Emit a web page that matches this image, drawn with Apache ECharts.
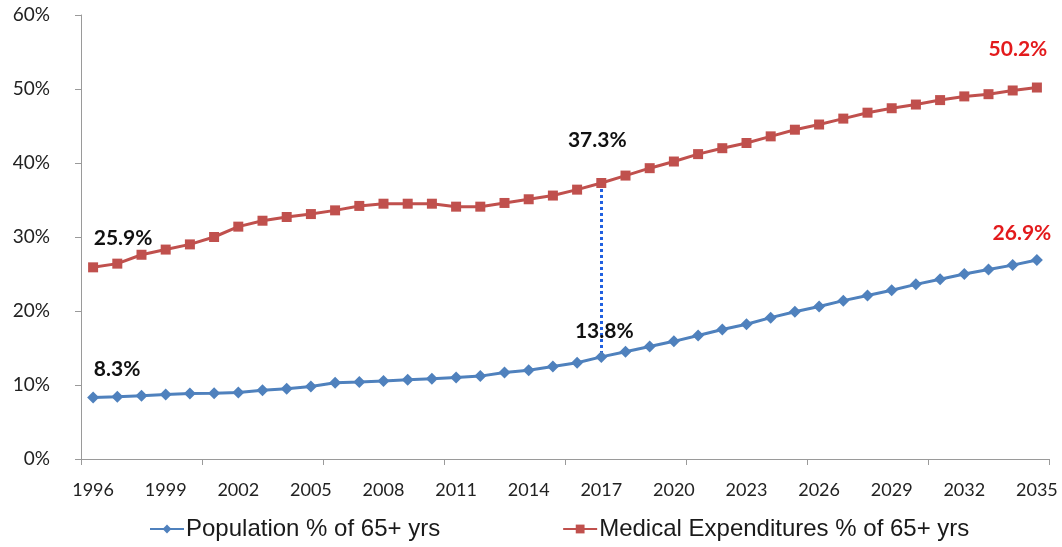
<!DOCTYPE html>
<html>
<head>
<meta charset="utf-8">
<script src="https://cdn.jsdelivr.net/npm/echarts@6/dist/echarts.min.js"></script>
<style>
  html, body { margin: 0; padding: 0; background: #fff; }
  #chart { width: 1062px; height: 547px; }
</style>
</head>
<body>
<div id="chart"></div>
<script>
// Years 1996–2035
const years = [];
for (let y = 1996; y <= 2035; y++) years.push(String(y));

// Share of population aged 65+ (%)
const populationPct = [
  8.3, 8.4, 8.55, 8.7, 8.85, 8.9, 9.0, 9.3, 9.5, 9.8,
  10.3, 10.4, 10.55, 10.7, 10.85, 11.0, 11.2, 11.7, 12.0, 12.5,
  13.0, 13.8, 14.5, 15.2, 15.9, 16.7, 17.5, 18.2, 19.1, 19.9,
  20.6, 21.4, 22.1, 22.8, 23.6, 24.3, 25.0, 25.6, 26.2, 26.9
];

// Share of medical expenditures spent on the 65+ group (%)
const medicalPct = [
  25.9, 26.4, 27.6, 28.3, 29.0, 30.0, 31.4, 32.2, 32.7, 33.1,
  33.6, 34.2, 34.5, 34.5, 34.5, 34.1, 34.1, 34.6, 35.1, 35.6,
  36.4, 37.3, 38.3, 39.3, 40.2, 41.2, 42.0, 42.7, 43.6, 44.5,
  45.2, 46.0, 46.8, 47.4, 47.9, 48.5, 49.0, 49.3, 49.8, 50.2
];

const yTicks = [0, 10, 20, 30, 40, 50, 60];
const seriesNames = ['Population % of 65+ yrs', 'Medical Expenditures % of 65+ yrs'];
const highlightYear = '2017';

const BLUE = '#4f81bd';
const RED = '#c0504d';
const labelFont = 'Lato, "Open Sans", "DejaVu Sans", sans-serif';
const tickFont = 'Lato, "Liberation Sans", Arial, sans-serif';
const legendFont = '"Liberation Sans", Arial, sans-serif';

function withLabels(values, labelled) {
  return values.map((v, i) => {
    const cfg = labelled[i];
    if (!cfg) return v;
    return {
      value: v,
      label: Object.assign({
        show: true,
        position: 'top',
        fontFamily: labelFont,
        fontWeight: 'bold',
        fontSize: 21,
        formatter: p => p.value.toFixed(1) + '%'
      }, cfg)
    };
  });
}

const last = years.length - 1;
const hi = years.indexOf(highlightYear);

const popData = withLabels(populationPct, {
  0: { color: '#111', offset: [24, -7] },
  [hi]: { color: '#111', offset: [3, -4] },
  [last]: { color: '#e31a1c', offset: [-15, -5] }
});
const medData = withLabels(medicalPct, {
  0: { color: '#111', offset: [30, -9] },
  [hi]: { color: '#111', offset: [-4, -22] },
  [last]: { color: '#e31a1c', offset: [-19, -18] }
});

const chart = echarts.init(document.getElementById('chart'), null, { renderer: 'canvas' });
chart.setOption({
  animation: false,
  backgroundColor: '#fff',
  grid: { left: 81, right: 13, top: 15, bottom: 88 },
  legend: {
    top: 512,
    left: 144,
    itemGap: 122,
    itemWidth: 34,
    itemHeight: 11,
    textStyle: { fontFamily: legendFont, fontSize: 24, color: '#1a1a1a', padding: [0, 0, 0, -3] },
    data: seriesNames
  },
  xAxis: {
    type: 'category',
    data: years,
    boundaryGap: true,
    axisLine: { lineStyle: { color: '#9a9a9a', width: 1 } },
    axisTick: { show: true, interval: 4, length: 6, lineStyle: { color: '#9a9a9a' } },
    axisLabel: {
      interval: 2,
      margin: 22,
      fontFamily: tickFont,
      fontSize: 18,
      color: '#222'
    },
    splitLine: { show: false }
  },
  yAxis: {
    type: 'value',
    min: yTicks[0],
    max: yTicks[yTicks.length - 1],
    interval: 10,
    axisLine: { show: true, lineStyle: { color: '#9a9a9a', width: 1 } },
    axisTick: { show: true, length: 6, lineStyle: { color: '#9a9a9a' } },
    axisLabel: {
      margin: 31,
      fontFamily: tickFont,
      fontSize: 19,
      color: '#222',
      formatter: v => v + '%'
    },
    splitLine: { show: false }
  },
  series: [
    {
      name: seriesNames[0],
      type: 'line',
      data: popData,
      symbol: 'diamond',
      symbolSize: 12,
      itemStyle: { color: BLUE },
      lineStyle: { color: BLUE, width: 3 },
      z: 3
    },
    {
      name: seriesNames[1],
      type: 'line',
      data: medData,
      symbol: 'rect',
      symbolSize: 10,
      itemStyle: { color: RED },
      lineStyle: { color: RED, width: 3 },
      z: 3,
      markLine: {
        silent: true,
        symbol: ['none', 'none'],
        label: { show: false },
        lineStyle: { type: 'dotted', color: '#1f5fe0', width: 3 },
        z: 2,
        data: [[
          { coord: [highlightYear, medicalPct[hi]] },
          { coord: [highlightYear, populationPct[hi]] }
        ]]
      }
    }
  ]
});
</script>
</body>
</html>
